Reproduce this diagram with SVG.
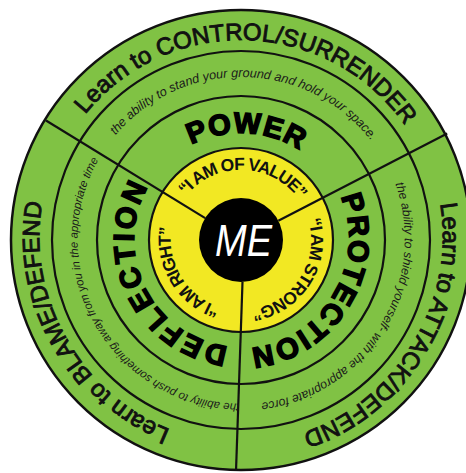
<svg xmlns="http://www.w3.org/2000/svg" width="466" height="473" viewBox="0 0 466 473">
<defs>
<style>
.ring{fill:none;stroke:#111;stroke-width:2.2}
.div{stroke:#111;stroke-width:2.2;fill:none}
.outer{font-family:"Liberation Sans",Arial,sans-serif;font-size:24px;fill:#111;stroke:#111;stroke-width:0.9}
.small{font-family:"Liberation Sans",Arial,sans-serif;font-style:italic;fill:#1a1a1a}
.big{font-family:"Liberation Sans",Arial,sans-serif;font-weight:bold;font-size:29px;fill:#000;stroke:#000;stroke-width:1.6}
.quote{font-family:"Liberation Sans",Arial,sans-serif;font-weight:bold;font-size:17.5px;fill:#111;letter-spacing:-1.1px}
</style>
<path id="p-top" d="M234.02,439.88 A200,200 0 1 1 247.98,40.12 A200,200 0 1 1 234.02,439.88"/>
<path id="p-right" d="M69.6,137 A200,200 0 1 1 412.4,343 A200,200 0 1 1 69.6,137"/>
<path id="p-left" d="M415.2,141.8 A200,200 0 1 1 66.8,338.2 A200,200 0 1 1 415.2,141.8"/>
<path id="s-top" d="M237.45,402.96 A163,163 0 1 1 244.55,77.04 A163,163 0 1 1 237.45,402.96"/>
<path id="s-right" d="M102.03,154.83 A163,163 0 1 1 379.97,325.17 A163,163 0 1 1 102.03,154.83"/>
<path id="s-left" d="M382.16,158.5 A163,163 0 1 1 99.84,321.5 A163,163 0 1 1 382.16,158.5"/>
<path id="b-top" d="M235.4,346.85 A107,107 0 1 1 246.6,133.15 A107,107 0 1 1 235.4,346.85"/>
<path id="b-right" d="M149.3,184.9 A107,107 0 1 1 332.7,295.1 A107,107 0 1 1 149.3,184.9"/>
<path id="b-left" d="M337.2,193.1 A107,107 0 1 1 144.8,286.9 A107,107 0 1 1 337.2,193.1"/>
<path id="q-top" d="M239.05,309.97 A70,70 0 1 1 242.95,170.03 A70,70 0 1 1 239.05,309.97"/>
<path id="q-right" d="M181.51,203.11 A70,70 0 1 1 300.49,276.89 A70,70 0 1 1 181.51,203.11"/>
<path id="q-left" d="M300.68,203.42 A70,70 0 1 1 181.32,276.58 A70,70 0 1 1 300.68,203.42"/>
</defs>
<rect width="466" height="473" fill="#fff"/>
<g id="wheel">
<circle cx="241" cy="240" r="230" fill="#80c244" stroke="#111" stroke-width="2.5"/>
<circle class="ring" cx="241" cy="240" r="189"/>
<circle class="ring" cx="241" cy="240" r="144"/>
<circle cx="241" cy="240" r="92" fill="#f2e823" stroke="#111" stroke-width="2.2"/>
</g>
<g id="connectors">
<line class="div" x1="205.2" y1="218.1" x2="46" y2="120.5"/>
<line class="div" x1="278.3" y1="220.7" x2="447.2" y2="133.6"/>
<line class="div" x1="242.5" y1="282" x2="236" y2="471"/>
</g>
<g id="me">
<circle cx="241" cy="240" r="42" fill="#000"/>
<text x="243.5" y="256" font-family="'Liberation Sans',Arial,sans-serif" font-style="italic" font-size="44" fill="#fff" text-anchor="middle" textLength="57" lengthAdjust="spacingAndGlyphs">ME</text>
</g>
<g id="power">
<text class="big" letter-spacing="1"><textPath href="#b-top" startOffset="50%" text-anchor="middle">POWER</textPath></text>
<text class="quote"><textPath href="#q-top" startOffset="50%" text-anchor="middle">“I AM OF VALUE”</textPath></text>
<text class="small" font-size="12.6"><textPath href="#s-top" startOffset="50%" text-anchor="middle">the ability to stand your ground and hold your space.</textPath></text>
<text class="outer"><textPath href="#p-top" startOffset="50%" text-anchor="middle">Learn to CONTROL/SURRENDER</textPath></text>
</g>
<g id="protection">
<text class="big" letter-spacing="1.5"><textPath href="#b-right" startOffset="50%" text-anchor="middle">PROTECTION</textPath></text>
<text class="quote"><textPath href="#q-right" startOffset="50%" text-anchor="middle">“I AM STRONG”</textPath></text>
<text class="small" font-size="12.3"><textPath href="#s-right" startOffset="50%" text-anchor="middle">the ability to shield yourself- with the appropriate force</textPath></text>
<text class="outer"><textPath href="#p-right" startOffset="50%" text-anchor="middle">Learn to ATTACK/DEFEND</textPath></text>
</g>
<g id="deflection">
<text class="big" letter-spacing="2.8"><textPath href="#b-left" startOffset="50%" text-anchor="middle">DEFLECTION</textPath></text>
<text class="quote"><textPath href="#q-left" startOffset="50%" text-anchor="middle">“I AM RIGHT”</textPath></text>
<text class="small" font-size="11.4"><textPath href="#s-left" startOffset="50%" text-anchor="middle">the ability to push something away from you in the appropriate time</textPath></text>
<text class="outer"><textPath href="#p-left" startOffset="50%" text-anchor="middle">Learn to BLAME/DEFEND</textPath></text>
</g>
</svg>
